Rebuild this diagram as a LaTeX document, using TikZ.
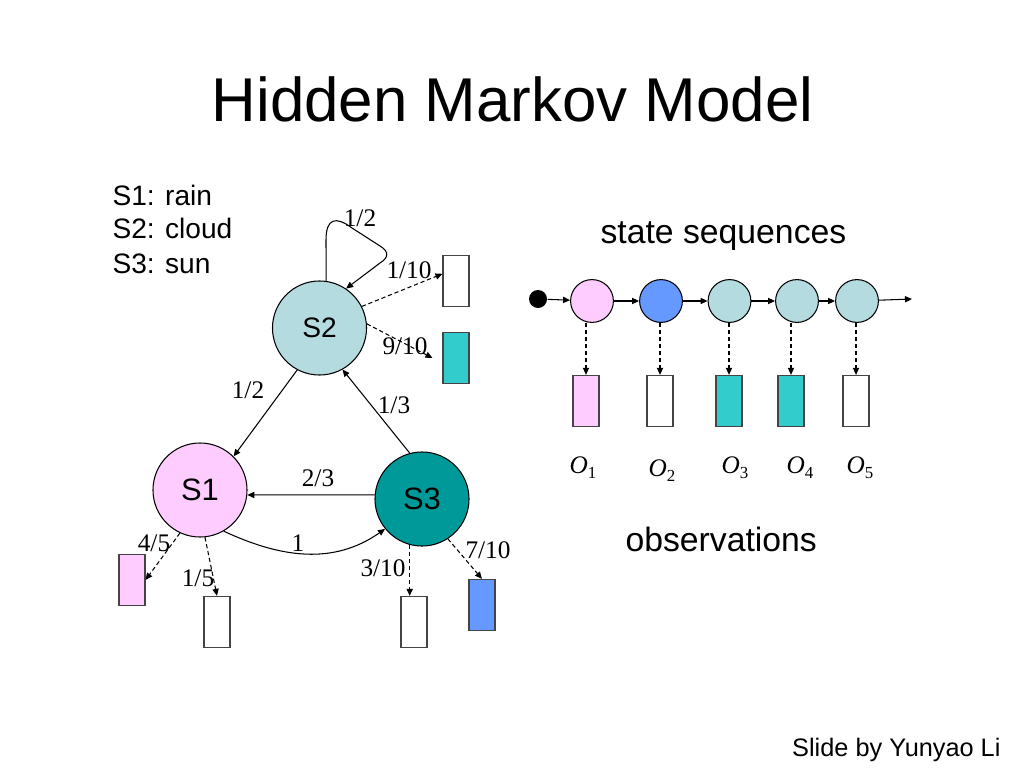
\documentclass[tikz,border=0pt]{standalone}
\usepackage{fontspec}
\setmainfont{Liberation Sans}
\newfontfamily\timesfont{Liberation Serif}
\usetikzlibrary{arrows.meta, positioning, calc}
\definecolor{cpink}{HTML}{FFCCFF}
\definecolor{clight}{HTML}{B4DCE0}
\definecolor{cteal}{HTML}{009999}
\definecolor{caqua}{HTML}{33CCCC}
\definecolor{cblue}{HTML}{6699FF}
\definecolor{cedge}{HTML}{444444}
\newcommand{\obsym}[1]{\textit{O}\raisebox{-0.45ex}{\fontsize{12}{12}\selectfont #1}}
\tikzset{
  every picture/.style={line width=0.75pt},
  state/.style={circle, draw, fill=#1, minimum size=2.35cm, inner sep=0pt, font=\fontsize{22}{26}\selectfont},
  state/.default=clight,
  seqstate/.style={circle, draw, fill=#1, minimum size=1.07cm, inner sep=0pt},
  seqstate/.default=clight,
  symbox/.style={draw=cedge, fill=#1, minimum width=0.65cm, minimum height=1.28cm, inner sep=0pt},
  symbox/.default=white,
  arrow/.style={-{Triangle[length=5pt, width=4.4pt]}},
  emit/.style={arrow, dash pattern=on 3pt off 2pt},
  prob/.style={font=\timesfont\fontsize{18}{20}\selectfont, inner sep=1pt},
  obslabel/.style={font=\timesfont\fontsize{18}{20}\selectfont, anchor=base, inner sep=0pt},
  caption/.style={font=\fontsize{24}{28}\selectfont, anchor=base west, inner sep=0pt},
  legend/.style={font=\fontsize{20}{24}\selectfont, anchor=base west, inner sep=0pt},
}

\begin{document}
\begin{tikzpicture}[x=0.025cm, y=-0.025cm]
  \useasboundingbox[fill=white] (0,0) rectangle (1024,768);

  \node[font=\fontsize{44}{50}\selectfont] (title) at (512.5,99) {Hidden Markov Model};

  % legend
  \node[legend] (leg1) at (112,205) {S1: rain};
  \node[legend] (leg2) at (112,238) {S2: cloud};
  \node[legend] (leg3) at (112,273) {S3: sun};

  % the three states
  \node[state=cpink] (s1) at (200,490) {S1};
  \node[state, font=\fontsize{20}{24}\selectfont] (s2) at (319.5,328) {S2};
  \node[state=cteal] (s3) at (422,499) {S3};

  % emitted symbols
  \node[symbox=cpink] (e11) at (132,580) {};
  \node[symbox] (e12) at (217,622) {};
  \node[symbox] (e21) at (456,281) {};
  \node[symbox=caqua] (e22) at (456,358) {};
  \node[symbox] (e31) at (414,622) {};
  \node[symbox=cblue] (e32) at (482,605) {};

  % transitions
  \draw[arrow] (s2.82) -- (326,240) .. controls (326,218) and (336,216) .. (352,228)
    -- (380,246) .. controls (390,252) and (388,258) .. (380,263) -- (s2.56);
  \node[prob] (pLoop) at (360,218) {1/2};
  \draw[arrow] (s2.242) -- (s1.45);
  \node[prob] (p21) at (248,390) {1/2};
  \draw[arrow] (s3.105) -- (s2.299);
  \node[prob] (p32) at (394,405) {1/3};
  \draw[arrow] (s3.175) -- (s1.354);
  \node[prob] (p31) at (318,478) {2/3};
  \draw[arrow] (s1.300) to[out=-25, in=215] (s3.219);
  \node[prob] (p13) at (298,543) {1};

  % emissions
  \draw[emit] (s2.27) -- (e21.152);
  \node[prob] (pe21) at (409,270) {1/10};
  \draw[emit] (s2.5) -- ([xshift=-0.25cm]e22.west);
  \node[prob] (pe22) at (405,346) {9/10};
  \draw[emit] (s1.245) -- (e11.east);
  \node[prob] (pe11) at (154,543) {4/5};
  \draw[emit] (s1.276) -- (e12.north);
  \node[prob] (pe12) at (198,578) {1/5};
  \draw[emit] (s3.255) -- (s3.255 |- e31.north);
  \node[prob] (pe31) at (383,568) {3/10};
  \draw[emit] (s3.303) -- (e32.north);
  \node[prob] (pe32) at (488,550) {7/10};

  % state sequence
  \node[caption] (seqtitle) at (600,243) {state sequences};
  \node[circle, fill=black, minimum size=0.45cm, inner sep=0pt] (q0) at (538,299) {};
  \node[seqstate=cpink] (q1) at (592,301) {};
  \node[seqstate=cblue] (q2) at (661,301) {};
  \node[seqstate] (q3) at (729.5,301) {};
  \node[seqstate] (q4) at (797,301) {};
  \node[seqstate] (q5) at (857,301) {};
  \coordinate (qend) at (912,299);
  \draw[arrow] (q0) -- (q1);
  \draw[arrow] (q1) -- (q2);
  \draw[arrow] (q2) -- (q3);
  \draw[arrow] (q3) -- (q4);
  \draw[arrow] (q4) -- (q5);
  \draw[arrow] (q5) -- (qend);

  % observations
  \node[symbox=cpink] (o1) at (586,401) {};
  \node[symbox] (o2) at (660,401) {};
  \node[symbox=caqua] (o3) at (729,401) {};
  \node[symbox=caqua] (o4) at (791,401) {};
  \node[symbox] (o5) at (856,401) {};
  \draw[emit] (o1.north |- q1.south) -- (o1.north);
  \draw[emit] (o2.north |- q2.south) -- (o2.north);
  \draw[emit] (o3.north |- q3.south) -- (o3.north);
  \draw[emit] (o4.north |- q4.south) -- (o4.north);
  \draw[emit] (o5.north |- q5.south) -- (o5.north);
  \node[obslabel] (ol1) at (583,473) {\obsym{1}};
  \node[obslabel] (ol2) at (662,476) {\obsym{2}};
  \node[obslabel] (ol3) at (735,473) {\obsym{3}};
  \node[obslabel] (ol4) at (800,473) {\obsym{4}};
  \node[obslabel] (ol5) at (860,473) {\obsym{5}};
  \node[caption] (obstitle) at (625,551) {observations};

  \node[font=\fontsize{18}{22}\selectfont, anchor=base east, inner sep=0pt] (credit) at (1001,756) {Slide by Yunyao Li};
\end{tikzpicture}
\end{document}
